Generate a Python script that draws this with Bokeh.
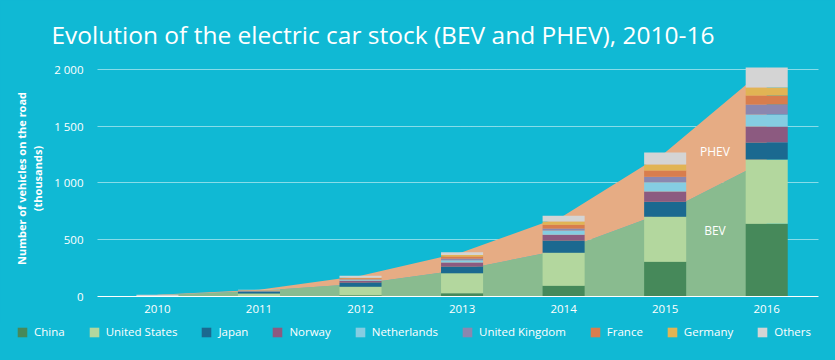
from bokeh.plotting import figure
from bokeh.models import Range1d, FixedTicker, Legend, LegendItem, Label, ColumnDataSource, Title
from bokeh.embed import file_html
from bokeh.resources import INLINE

# ---- data (thousands of vehicles) ----
years = [2010, 2011, 2012, 2013, 2014, 2015, 2016]
year_labels = ["2010", "2011", "2012", "2013", "2014", "2015", "2016"]
countries = ["China", "United States", "Japan", "Norway", "Netherlands",
             "United Kingdom", "France", "Germany", "Others"]
china = [0.5, 5, 10, 29, 94, 306, 641]
united_states = [0.5, 22, 75, 176, 291, 397, 565]
japan = [1, 14, 38, 59, 109, 132, 150]
norway = [1, 5, 16, 35, 50, 89, 141]
netherlands = [0.2, 1.5, 10, 21, 38, 82, 106]
united_kingdom = [0.2, 1.5, 4, 15, 18, 50, 88]
france = [0.2, 3, 8, 18, 32, 53, 80]
germany = [0.2, 2, 4, 12, 29, 53, 70]
others = [11, 5, 18, 24, 50, 106, 176]
bev = [12, 50, 112, 235, 415, 745, 1200]
phev = [3, 9, 71, 154, 296, 523, 817]
y_ticks = [0, 500, 1000, 1500, 2000]
y_tick_labels = ["0", "500", "1 000", "1 500", "2 000"]

BG = "#10B9D4"
country_colors = ["#46895A", "#B3D79E", "#1B6990", "#8C5A80", "#85CDE2",
                  "#8B87AF", "#D87D4D", "#E1B454", "#D4D4D4"]
BEV_COLOR = "#89BB8F"
PHEV_COLOR = "#E6AC84"
FONT = "Open Sans"

series = [china, united_states, japan, norway, netherlands,
          united_kingdom, france, germany, others]
data = {"year": years}
for name, vals in zip(countries, series):
    data[name] = vals
src = ColumnDataSource(data)

bev_top = bev
total_top = [b + h for b, h in zip(bev, phev)]
zeros = [0] * len(years)

p = figure(width=835, height=322, output_backend="svg", toolbar_location=None,
           x_range=Range1d(2009.41, 2016.51), y_range=Range1d(0, 2079),
           min_border_left=97, min_border_right=17, min_border_top=60,
           min_border_bottom=26)
p.background_fill_color = BG
p.border_fill_color = BG
p.outline_line_color = None

title = Title(text="Evolution of the electric car stock (BEV and PHEV), 2010-16",
              text_color="white", text_font=FONT, text_font_size="24.5px",
              text_font_style="normal", align="left", offset=-46, standoff=20)
p.add_layout(title, "above")

# areas (BEV / PHEV split of the total stock)
p.varea(x=years, y1=zeros, y2=bev_top, fill_color=BEV_COLOR)
p.varea(x=years, y1=bev_top, y2=total_top, fill_color=PHEV_COLOR)

# stacked bars by country
p.vbar_stack(countries, x="year", width=0.414, source=src,
             fill_color=country_colors, line_color=None)

p.add_layout(Label(x=2015.49, y=1280, text="PHEV", text_align="center",
                   text_baseline="middle", text_color="white",
                   text_font=FONT, text_font_size="12px"))
p.add_layout(Label(x=2015.49, y=583, text="BEV", text_align="center",
                   text_baseline="middle", text_color="white",
                   text_font=FONT, text_font_size="12px"))

# axes
p.xaxis.ticker = FixedTicker(ticks=years)
p.xaxis.major_label_overrides = {y: l for y, l in zip(years, year_labels)}
p.xaxis.axis_line_color = "white"
p.xaxis.axis_line_width = 1
p.xaxis.major_tick_line_color = None
p.xaxis.minor_tick_line_color = None
p.xaxis.major_tick_out = 0
p.xaxis.major_tick_in = 0
p.xaxis.minor_tick_out = 0
p.xaxis.major_label_standoff = 8
p.xaxis.major_label_text_color = "white"
p.xaxis.major_label_text_font = FONT
p.xaxis.major_label_text_font_size = "11.5px"

p.yaxis.ticker = FixedTicker(ticks=y_ticks)
p.yaxis.major_label_overrides = {t: l for t, l in zip(y_ticks, y_tick_labels)}
p.yaxis.axis_line_color = None
p.yaxis.major_tick_line_color = None
p.yaxis.minor_tick_line_color = None
p.yaxis.major_tick_out = 0
p.yaxis.major_tick_in = 0
p.yaxis.minor_tick_out = 0
p.yaxis.major_label_standoff = 14
p.yaxis.major_label_text_color = "white"
p.yaxis.major_label_text_font = FONT
p.yaxis.major_label_text_font_size = "11.5px"
p.yaxis.axis_label = "Number of vehicles on the road\n(thousands)"
p.yaxis.axis_label_text_color = "white"
p.yaxis.axis_label_text_font = FONT
p.yaxis.axis_label_text_font_size = "11px"
p.yaxis.axis_label_text_font_style = "bold"
p.yaxis.axis_label_text_line_height = 1.1
p.yaxis.axis_label_standoff = 6

p.xgrid.grid_line_color = None
p.ygrid.ticker = FixedTicker(ticks=y_ticks)
p.ygrid.grid_line_color = "white"
p.ygrid.grid_line_dash = "1 1"
p.ygrid.grid_line_width = 1

# legend strip below the chart (separate root, full width)
pl = figure(width=835, height=38, output_backend="svg", toolbar_location=None,
            x_range=Range1d(0, 1), y_range=Range1d(0, 1),
            x_axis_location=None, y_axis_location=None, min_border=0,
            min_border_left=0, min_border_right=0, min_border_top=0,
            min_border_bottom=0)
pl.background_fill_color = BG
pl.border_fill_color = BG
pl.outline_line_color = None
pl.xgrid.visible = False
pl.ygrid.visible = False
rs = pl.vbar_stack(countries, x="year", width=0.414, source=src,
                   fill_color=country_colors, line_color=None)
items = [LegendItem(label=c, renderers=[r]) for c, r in zip(countries, rs)]
legend = Legend(items=items, orientation="horizontal", location=(16, 21),
                label_text_color="white", label_text_font=FONT,
                label_text_font_size="11.5px", glyph_width=12, glyph_height=12,
                label_standoff=6, spacing=23, padding=0, margin=0,
                label_height=12, label_width=10,
                background_fill_alpha=0, border_line_alpha=0)
pl.add_layout(legend, "center")

html = file_html([p, pl], INLINE)
html = html.replace("<head>", "<head><style>html,body{background:%s;}</style>" % BG, 1)
open("out.html", "w").write(html)
